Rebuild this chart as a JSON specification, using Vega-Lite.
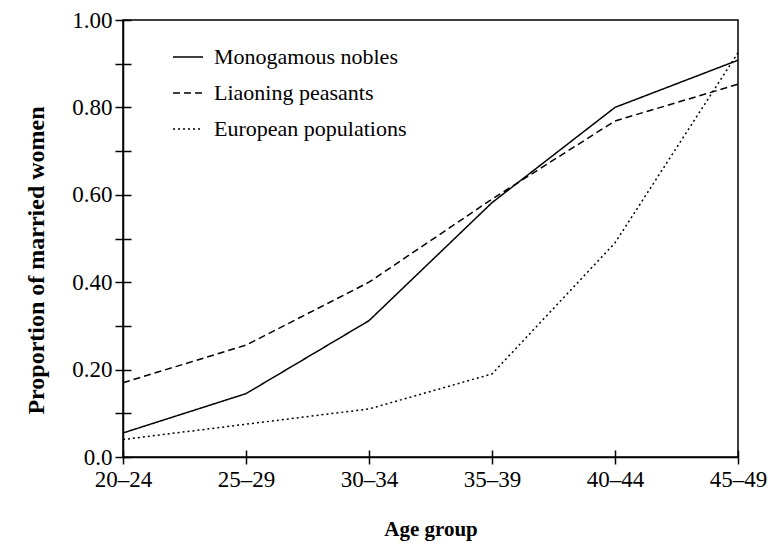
{
  "$schema": "https://vega.github.io/schema/vega-lite/v6.json",
  "width": 615,
  "height": 437,
  "autosize": "none",
  "padding": {"left": 123, "top": 20, "right": 40, "bottom": 86},
  "background": "white",
  "config": {
    "view": {"stroke": "black", "strokeWidth": 1.5},
    "axis": {
      "domainColor": "black", "domainWidth": 1.5,
      "tickColor": "black", "tickWidth": 1.5,
      "labelColor": "black", "labelFont": "Liberation Serif", "labelFontSize": 23,
      "titleColor": "black", "titleFont": "Liberation Serif", "titleFontSize": 21, "titleFontWeight": "bold",
      "grid": false
    },
    "legend": {
      "labelFont": "Liberation Serif", "labelFontSize": 22, "labelColor": "black", "labelLimit": 0
    }
  },
  "data": {
    "values": [
      {"age": "20–24", "series": "Monogamous nobles", "p": 0.055},
      {"age": "25–29", "series": "Monogamous nobles", "p": 0.145},
      {"age": "30–34", "series": "Monogamous nobles", "p": 0.312},
      {"age": "35–39", "series": "Monogamous nobles", "p": 0.582},
      {"age": "40–44", "series": "Monogamous nobles", "p": 0.80},
      {"age": "45–49", "series": "Monogamous nobles", "p": 0.908},
      {"age": "20–24", "series": "Liaoning peasants", "p": 0.17},
      {"age": "25–29", "series": "Liaoning peasants", "p": 0.256},
      {"age": "30–34", "series": "Liaoning peasants", "p": 0.40},
      {"age": "35–39", "series": "Liaoning peasants", "p": 0.59},
      {"age": "40–44", "series": "Liaoning peasants", "p": 0.769},
      {"age": "45–49", "series": "Liaoning peasants", "p": 0.853},
      {"age": "20–24", "series": "European populations", "p": 0.04},
      {"age": "25–29", "series": "European populations", "p": 0.075},
      {"age": "30–34", "series": "European populations", "p": 0.11},
      {"age": "35–39", "series": "European populations", "p": 0.19},
      {"age": "40–44", "series": "European populations", "p": 0.49},
      {"age": "45–49", "series": "European populations", "p": 0.925}
    ]
  },
  "layer": [
    {
      "mark": {"type": "line", "color": "black", "strokeWidth": 1.5},
      "encoding": {
        "x": {
          "field": "age", "type": "ordinal", "sort": null,
          "scale": {"type": "point", "padding": 0},
          "axis": {"title": "Age group", "labelAngle": 0, "tickSize": 7, "labelPadding": 4, "titlePadding": 27}
        },
        "y": {
          "field": "p", "type": "quantitative",
          "scale": {"domain": [0, 1], "nice": false},
          "axis": {
            "title": "Proportion of married women",
            "titleFontSize": 24,
            "titleY": 240,
            "values": [0, 0.1, 0.2, 0.3, 0.4, 0.5, 0.6, 0.7, 0.8, 0.9, 1.0],
            "labelExpr": "datum.value == 0 ? '0.0' : (round(datum.value*10) % 2 == 0 ? format(datum.value, '.2f') : '')",
            "tickSize": 8, "labelPadding": 3, "titlePadding": 23, "labelFlush": false
          }
        },
        "strokeDash": {
          "field": "series", "type": "nominal",
          "scale": {
            "domain": ["Monogamous nobles", "Liaoning peasants", "European populations"],
            "range": [[1, 0], [7, 4], [2, 3]]
          },
          "legend": {
            "title": null, "orient": "none", "legendX": 49, "legendY": 21,
            "symbolType": "stroke", "symbolSize": 900, "symbolStrokeColor": "black",
            "symbolStrokeWidth": 1.5, "rowPadding": 9, "labelOffset": 10
          }
        }
      }
    },
    {
      "mark": {"type": "line", "strokeOpacity": 0},
      "encoding": {
        "x": {
          "field": "age", "type": "ordinal", "sort": null,
          "scale": {"type": "point", "padding": 0},
          "axis": {"orient": "bottom", "title": null, "labels": false, "domain": false, "tickSize": 7, "offset": -7}
        },
        "y": {
          "field": "p", "type": "quantitative",
          "scale": {"domain": [0, 1], "nice": false},
          "axis": {"orient": "left", "title": null, "labels": false, "domain": false, "tickSize": 8, "offset": -8,
            "values": [0, 0.1, 0.2, 0.3, 0.4, 0.5, 0.6, 0.7, 0.8, 0.9, 1.0]}
        }
      }
    }
  ],
  "resolve": {"axis": {"x": "independent", "y": "independent"}}
}
